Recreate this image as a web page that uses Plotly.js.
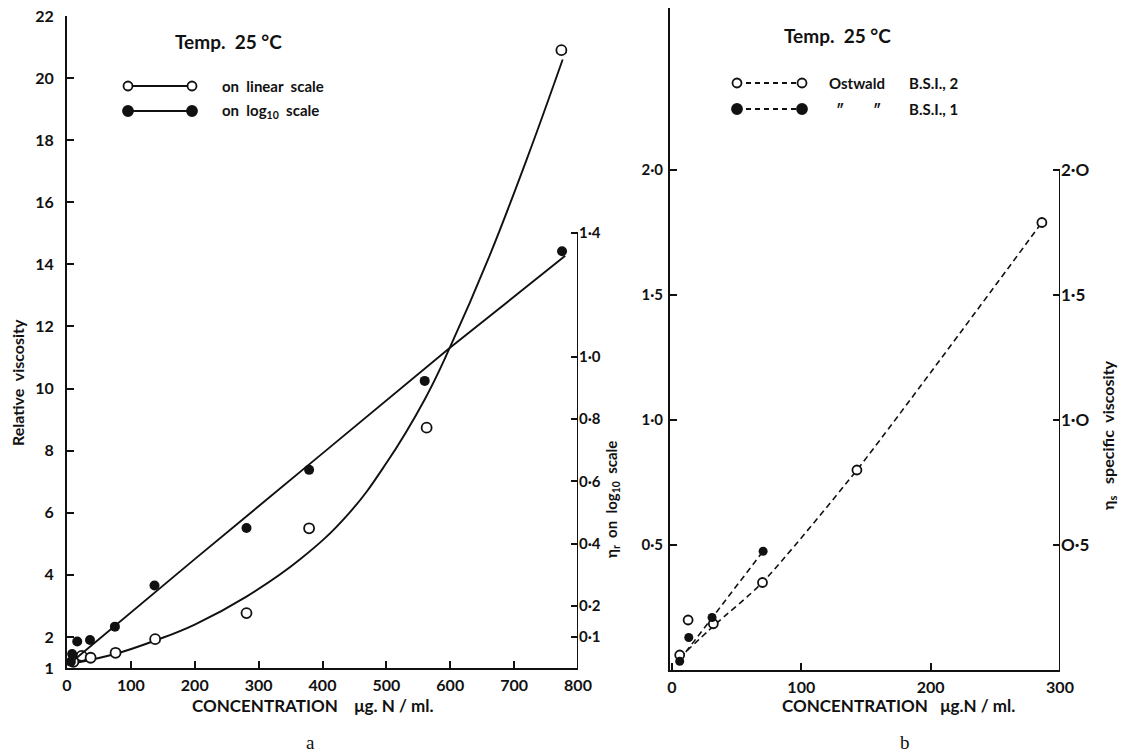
<!DOCTYPE html>
<html>
<head>
<meta charset="utf-8">
<script src="https://cdn.plot.ly/plotly-3.0.1.min.js"></script>
<style>html,body{margin:0;padding:0;background:#fff;}#plot{width:1126px;height:752px;}</style>
</head>
<body>
<div id="plot"></div>
<script>
// ---------- DATA ----------
// Panel a: relative viscosity on linear scale (open circles)
const concLinear = [10, 23, 37, 76, 138, 281, 379, 563, 774];
const relViscLinear = [1.20, 1.39, 1.33, 1.49, 1.93, 2.77, 5.5, 8.74, 20.9];
// smooth curve drawn through the linear-scale points
const linCurveX = [5, 75, 140, 200, 281, 365, 440, 500, 560, 600, 660, 720, 776];
const linCurveY = [1.13, 1.45, 1.9, 2.4, 3.3, 4.5, 5.95, 7.6, 9.65, 11.35, 14.2, 17.4, 20.6];
// Panel a: log10 of relative viscosity (filled circles)
const concLog = [6, 8, 16, 36, 75, 137, 281, 379, 560, 775];
const log10Visc = [0.02, 0.045, 0.085, 0.09, 0.133, 0.265, 0.45, 0.637, 0.923, 1.34];
const logLineX = [5, 200, 400, 600, 780];
const logLineY = [0.015, 0.35, 0.69, 1.03, 1.325];
// Panel b: specific viscosity
const ostwald2X = [6, 12.5, 32, 70, 143, 286];
const ostwald2Y = [0.06, 0.20, 0.185, 0.35, 0.80, 1.79];
const ostwald2LineX = [6, 33, 70, 143, 286];
const ostwald2LineY = [0.05, 0.18, 0.35, 0.80, 1.79];
const ostwald1X = [6, 13, 31, 70.5];
const ostwald1Y = [0.035, 0.13, 0.21, 0.475];
const ostwald1LineX = [6, 70.5];
const ostwald1LineY = [0.04, 0.475];
// tick labels
const xTicksA = [0, 100, 200, 300, 400, 500, 600, 700, 800];
const yTicksA = [1, 2, 4, 6, 8, 10, 12, 14, 16, 18, 20, 22];
const y2TicksA = [0.1, 0.2, 0.4, 0.6, 0.8, 1.0, 1.4];
const y2TextA = ['0·1', '0·2', '0·4', '0·6', '0·8', '1·0', '1·4'];
const xTicksB = [0, 100, 200, 300];
const yTicksB = [0.5, 1.0, 1.5, 2.0];
const yTextB = ['0·5', '1·0', '1·5', '2·0'];
const y2TextB = ['O·5', '1·O', '1·5', '2·O'];

// ---------- LAYOUT helpers ----------
const W = 1126, H = 752;
const px = v => v / W;
const py = v => 1 - v / H;
const FONT = 'Lato, "Open Sans", sans-serif';
const bold = (s) => ({family: FONT, size: s, color: '#111', weight: 'bold'});

const openMarker = {symbol: 'circle', size: 10, color: '#fff', line: {width: 1.8, color: '#111'}};
const fillMarker = {symbol: 'circle', size: 10, color: '#111'};

const traces = [
  {x: linCurveX, y: linCurveY, xaxis: 'x', yaxis: 'y', mode: 'lines', line: {color: '#111', width: 1.9, shape: 'spline', smoothing: 1.2}},
  {x: concLinear, y: relViscLinear, xaxis: 'x', yaxis: 'y', mode: 'markers', marker: openMarker, cliponaxis: false},
  {x: logLineX, y: logLineY, xaxis: 'x', yaxis: 'y2', mode: 'lines', line: {color: '#111', width: 1.9}},
  {x: concLog, y: log10Visc, xaxis: 'x', yaxis: 'y2', mode: 'markers', marker: fillMarker, cliponaxis: false},
  {x: ostwald2LineX, y: ostwald2LineY, xaxis: 'x3', yaxis: 'y3', mode: 'lines', line: {color: '#111', width: 1.6, dash: '6px,4px', shape: 'spline', smoothing: 0.6}},
  {x: ostwald1LineX, y: ostwald1LineY, xaxis: 'x3', yaxis: 'y3', mode: 'lines', line: {color: '#111', width: 1.6, dash: '6px,4px'}},
  {x: ostwald2X, y: ostwald2Y, xaxis: 'x3', yaxis: 'y3', mode: 'markers', marker: Object.assign({}, openMarker, {size: 9}), cliponaxis: false},
  {x: ostwald1X, y: ostwald1Y, xaxis: 'x3', yaxis: 'y3', mode: 'markers', marker: {symbol: 'circle', size: 9, color: '#111'}, cliponaxis: false}
];

const axisCommon = {
  showgrid: false, zeroline: false, showline: true, linecolor: '#111', linewidth: 2,
  ticks: 'inside', ticklen: 7, tickwidth: 2, tickcolor: '#111', tickfont: bold(16), fixedrange: true
};

const layout = {
  width: W, height: H, margin: {l: 0, r: 0, t: 0, b: 0},
  paper_bgcolor: '#fff', plot_bgcolor: 'rgba(0,0,0,0)', showlegend: false,
  xaxis: Object.assign({}, axisCommon, {domain: [px(67), px(578)], range: [0, 800], anchor: 'y',
    tickmode: 'array', tickvals: xTicksA, ticktext: xTicksA.map(String), ticklabelstandoff: 2}),
  yaxis: Object.assign({}, axisCommon, {domain: [py(668), py(16)], range: [1, 22], anchor: 'x',
    tickmode: 'array', tickvals: yTicksA, ticktext: yTicksA.map(String), ticklabelstandoff: 8}),
  yaxis2: Object.assign({}, axisCommon, {overlaying: 'y', side: 'right', anchor: 'x', range: [0, 2.096],
    showline: false, tickmode: 'array', tickvals: y2TicksA, ticktext: y2TextA, ticklabelstandoff: 0, tickfont: bold(15)}),
  xaxis3: Object.assign({}, axisCommon, {domain: [px(670), px(1060)], range: [-1.5, 300], anchor: 'y3',
    tickmode: 'array', tickvals: xTicksB, ticktext: xTicksB.map(String), ticklabelstandoff: 2}),
  yaxis3: Object.assign({}, axisCommon, {domain: [py(670), py(8)], range: [0, 2.648], anchor: 'x3',
    tickmode: 'array', tickvals: yTicksB, ticktext: yTextB, ticklabelstandoff: 2, tickfont: bold(15)}),
  yaxis4: Object.assign({}, axisCommon, {overlaying: 'y3', side: 'right', anchor: 'x3', range: [0, 2.648],
    showline: false, tickmode: 'array', tickvals: yTicksB, ticktext: y2TextB, ticklabelstandoff: 0, tickfont: bold(17)}),
  shapes: [],
  annotations: []
};

// partial right-hand axis lines
layout.shapes.push({type: 'line', xref: 'x', yref: 'y2', x0: 800, x1: 800, y0: 0, y1: 1.4, line: {color: '#111', width: 2}});
layout.shapes.push({type: 'line', xref: 'x3', yref: 'y4', x0: 300, x1: 300, y0: 0, y1: 2.0, line: {color: '#111', width: 2}});

// legend glyphs
function legendGlyph(x0, x1, y, filled, dash) {
  layout.shapes.push({type: 'line', xref: 'paper', yref: 'paper', x0: px(x0), x1: px(x1), y0: py(y), y1: py(y),
    line: {color: '#111', width: 1.8, dash: dash ? '5px,4px' : 'solid'}});
  [x0, x1].forEach(cx => {
    const r = filled ? 5 : 4.5;
    layout.shapes.push({type: 'circle', xref: 'paper', yref: 'paper', xsizemode: 'pixel', ysizemode: 'pixel',
      xanchor: px(cx), yanchor: py(y), x0: -r, x1: r, y0: -r, y1: r,
      fillcolor: filled ? '#111' : '#fff', line: {color: '#111', width: 1.8}});
  });
}
legendGlyph(128, 192, 86, false, false);
legendGlyph(128, 192, 111, true, false);
legendGlyph(737, 802, 83, false, true);
legendGlyph(737, 802, 109, true, true);

function ann(text, x, y, font, opts) {
  layout.annotations.push(Object.assign({text: text, x: px(x), y: py(y), xref: 'paper', yref: 'paper',
    showarrow: false, font: font, xanchor: 'center', yanchor: 'middle'}, opts || {}));
}
// panel a texts
ann('Temp.  25 °C', 228, 42, bold(19));
ann('on  linear  scale', 220, 86, bold(15), {xanchor: 'left'});
ann('on  log<sub>10</sub>  scale', 220, 111, bold(15), {xanchor: 'left'});
ann('Relative  viscosity', 17, 383, bold(16), {textangle: -90});
ann('η<sub>r</sub>  on  log<sub>10</sub>  scale', 612, 500, bold(15), {textangle: -90});
ann('CONCENTRATION    μg. N / ml.', 312, 705, bold(17));
ann('a', 310, 742, {family: '"Liberation Serif", serif', size: 19, color: '#111'});
// panel b texts
ann('Temp.  25 °C', 837, 36, bold(19));
ann('Ostwald', 827, 83, bold(15), {xanchor: 'left'});
ann('B.S.I., 2', 907, 83, bold(15), {xanchor: 'left'});
ann('″', 840, 109, bold(15));
ann('″', 877, 109, bold(15));
ann('B.S.I., 1', 907, 109, bold(15), {xanchor: 'left'});
ann('η<sub>s</sub>   specific  viscosity', 1108, 435, bold(16), {textangle: -90});
ann('CONCENTRATION   μg.N / ml.', 898, 705, bold(17));
ann('b', 905, 742, {family: '"Liberation Serif", serif', size: 19, color: '#111'});

Plotly.newPlot('plot', traces, layout, {displayModeBar: false, staticPlot: true});
</script>
</body>
</html>
